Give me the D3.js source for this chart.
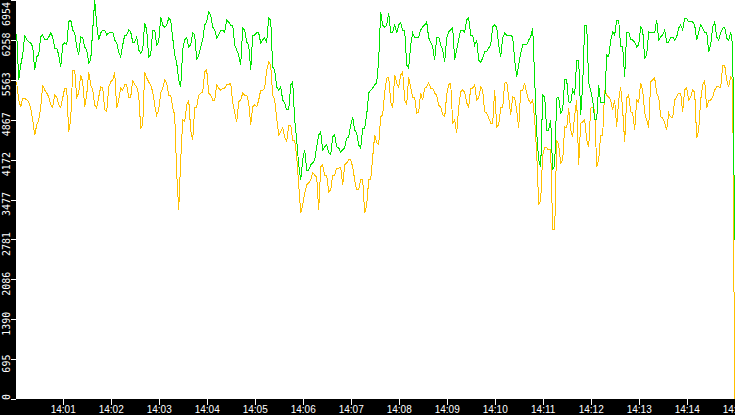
<!DOCTYPE html>
<html>
<head>
<meta charset="utf-8">
<script src="https://cdn.jsdelivr.net/npm/d3@7"></script>
<style>
  html, body { margin: 0; padding: 0; background: #000; }
  svg { display: block; }
</style>
</head>
<body>
<div id="chart"></div>
<script>
// ── Data ─────────────────────────────────────────────────────────────────
// Samples on the 5 s grid from 14:00:00, plus the readings halfway between
// them (…:02.5, …:07.5). The last grid sample (14:15:00) has no half step.
const startTime = new Date(2024, 0, 1, 14, 0, 0);
const stepSeconds = 5;

const green = [
  6379, 5560, 5995, 6257, 6205, 5734, 5995, 6344, 6257, 6379,
  6117, 5995, 6170, 6170, 6605, 6379, 5995, 6292, 6083, 5908,
  6954, 6257, 6431, 6344, 6396, 6257, 6048, 6170, 6344, 6396,
  6222, 6083, 6083, 6431, 5995, 6431, 6222, 6518, 6518, 6605,
  5995, 5560, 6083, 6292, 6170, 6344, 5995, 6257, 6571, 6693,
  6431, 6344, 6431, 6605, 6518, 6170, 5995, 6466, 6222, 5734,
  6344, 6379, 6257, 6222, 6605, 5734, 5385, 5211, 5037, 5473,
  4863, 4078, 4166, 3991, 4078, 4166, 4601, 4340, 4427, 4253,
  4601, 4375, 4340, 4549, 4775, 4688, 4427, 4723, 4950, 5385,
  5473, 5908, 6518, 6518, 6396, 6518, 6518, 6431, 5821, 6170,
  6309, 6309, 6483, 6571, 6222, 5908, 6309, 6083, 6292, 6431,
  5908, 6257, 6431, 6605, 6344, 6170, 5908, 5943, 6048, 6170,
  6518, 6170, 6292, 6344, 6344, 5908, 5821, 6170, 6170, 6309,
  5560, 4166, 5298, 4688, 4863, 4078, 5263, 5037, 5560, 5159,
  5298, 5908, 5473, 6518, 5385, 4863, 5473, 5159, 5995, 6257,
  6344, 6605, 6135, 6396, 6257, 6222, 6170, 6431, 5995, 6379,
  6379, 6257, 6344, 6222, 6292, 6257, 6466, 6431, 6640, 6571,
  6518, 6396, 6466, 6396, 6170, 6571, 6257, 6466, 6292, 6396,
  2771,
];

const greenMid = [
  6344, 5821, 6344, 6222, 6135, 5961, 6309, 6257, 6309, 6309,
  6117, 5786, 6205, 6571, 6431, 6135, 6309, 6135, 5856, 6431,
  6518, 6379, 6431, 6379, 6396, 6205, 5961, 6344, 6431, 6222,
  6309, 6030, 6553, 5961, 6431, 6170, 6658, 6483, 6640, 6292,
  5856, 5438, 6257, 6135, 6379, 5908, 6135, 6518, 6745, 6483,
  6292, 6431, 6396, 6571, 6518, 6083, 5821, 6431, 6170, 6344,
  6379, 6205, 6292, 6640, 5786, 5438, 5438, 5159, 5037, 5525,
  4514, 3817, 4340, 3991, 4113, 4392, 4654, 4392, 4288, 4566,
  4392, 4305, 4375, 4566, 4915, 4636, 4375, 4723, 5333, 5420,
  5507, 6745, 6483, 6727, 6396, 6379, 6553, 6431, 5769, 6379,
  6309, 6431, 6518, 6292, 6135, 6309, 6170, 5873, 6396, 6466,
  6083, 6431, 6396, 6640, 6344, 6257, 5873, 6048, 6117, 6483,
  6483, 5961, 6379, 6344, 6309, 5612, 6030, 6170, 6257, 6466,
  4636, 4044, 5263, 4688, 3991, 5246, 4985, 5560, 5176, 5385,
  5908, 4950, 6518, 5507, 5211, 4863, 5159, 5176, 5961, 6396,
  6605, 6135, 5612, 6396, 6257, 6135, 6483, 5943, 6396, 6379,
  6605, 6309, 6431, 6222, 6309, 6309, 6518, 6640, 6571, 6571,
  6257, 6518, 6396, 6048, 6483, 6309, 6379, 6483, 6257, 6170,
];

const yellow = [
  5560, 5211, 5246, 5211, 5072, 4601, 4863, 5473, 5333, 5124,
  5298, 5124, 5246, 5420, 4863, 5734, 5333, 5525, 5298, 5473,
  5124, 5263, 5420, 5002, 5525, 5699, 5211, 5385, 5473, 5263,
  5473, 5298, 4775, 5595, 5473, 5124, 5037, 5420, 5507, 5298,
  4950, 3294, 4863, 5124, 4688, 5089, 5298, 5351, 5734, 5298,
  5211, 5420, 5420, 5473, 5507, 5002, 5176, 5333, 5298, 4775,
  5124, 5211, 5385, 5734, 5821, 5211, 4601, 4723, 4479, 4775,
  4514, 3730, 3381, 3730, 3817, 3904, 3294, 4078, 3904, 3643,
  3904, 4026, 3730, 4113, 4166, 3817, 3643, 3817, 3381, 3817,
  4601, 4427, 4950, 5595, 5176, 5647, 5438, 5699, 5124, 5420,
  5263, 5002, 5211, 5438, 5420, 5333, 5124, 4950, 5298, 5507,
  4863, 5089, 5385, 5159, 5420, 5473, 5246, 5385, 4985, 4810,
  5385, 4775, 5072, 5525, 4950, 5246, 4723, 5385, 5333, 5159,
  4863, 3381, 4253, 4375, 4340, 2946, 4427, 4166, 4723, 4688,
  4950, 4078, 4828, 4514, 5072, 5037, 4166, 4601, 5298, 5211,
  5211, 5211, 5037, 5246, 5002, 4688, 5176, 5385, 4863, 5525,
  5595, 5263, 4897, 4688, 4915, 5211, 5333, 5002, 5420, 5263,
  5351, 4688, 5473, 5072, 5211, 5385, 5438, 5821, 5560, 5612,
  0,
];

const yellowMid = [
  5507, 5089, 5246, 5176, 4863, 4775, 5089, 5385, 5263, 5089,
  5263, 5089, 5420, 4654, 5734, 5263, 5647, 5089, 5699, 5385,
  5072, 5438, 5037, 5438, 5560, 5072, 5420, 5473, 5263, 5560,
  5438, 4723, 5699, 5525, 5351, 4950, 5333, 5560, 5298, 5072,
  3939, 4166, 4828, 5211, 4514, 5089, 5333, 5699, 5333, 5211,
  5473, 5385, 5420, 5473, 5159, 4828, 5211, 5298, 5159, 5089,
  5089, 5385, 5420, 5873, 5298, 4897, 4654, 4566, 4775, 4514,
  4218, 3242, 3590, 3765, 3939, 3869, 4044, 3904, 3608, 3904,
  4026, 4044, 4078, 4166, 4044, 3643, 3817, 3242, 3817, 4218,
  4462, 4915, 5351, 5612, 5072, 5507, 5647, 5211, 5612, 5263,
  4985, 5333, 5420, 5507, 5420, 5298, 5089, 4915, 5473, 4810,
  4636, 5351, 5351, 5089, 5420, 5211, 5438, 5002, 4897, 4810,
  4741, 5072, 5507, 5263, 5263, 5037, 5385, 5507, 5211, 5211,
  4288, 3468, 4375, 4340, 2946, 4514, 4113, 4741, 5072, 4566,
  5211, 4810, 4863, 4392, 5089, 4044, 4601, 5385, 5263, 5037,
  4741, 5438, 4479, 5298, 4985, 5211, 5507, 4985, 4723, 5560,
  5333, 4915, 4810, 4985, 4897, 5263, 5333, 5385, 5211, 5385,
  4549, 5211, 5560, 5211, 5263, 5438, 5420, 5821, 5438, 5560,
];

const seriesColors = {yellow: "#ffc000", green: "#00e400"};

// ── Layout ───────────────────────────────────────────────────────────────
const W = 735;
const H = 415;
const plot = {left: 16, right: 735, top: 0, bottom: 399};

const rows = [];
green.forEach((g, i) => {
  rows.push({t: new Date(+startTime + i * stepSeconds * 1000), green: g, yellow: yellow[i]});
  if (i < greenMid.length) {
    rows.push({t: new Date(+startTime + (i + 0.5) * stepSeconds * 1000), green: greenMid[i], yellow: yellowMid[i]});
  }
});

const yMax = d3.max(rows, (d) => Math.max(d.green, d.yellow));
const yTicks = d3.range(11).map((k) => (yMax * k) / 10);

const x = d3.scaleTime()
  .domain([new Date(+startTime + 1600), new Date(+startTime + 900400)])
  .range([plot.left, plot.right]);

const y = d3.scaleLinear()
  .domain([0, yMax])
  .range([plot.bottom, plot.top]);

const svg = d3.select("#chart").append("svg")
  .attr("width", W)
  .attr("height", H)
  .style("font-family", "'DejaVu Sans Mono', monospace")
  .style("font-size", "10px");

svg.append("rect").attr("width", W).attr("height", H).attr("fill", "#000");
svg.append("rect")
  .attr("x", plot.left).attr("y", plot.top)
  .attr("width", plot.right - plot.left).attr("height", plot.bottom - plot.top)
  .attr("fill", "#fff");

svg.append("clipPath").attr("id", "plot-clip")
  .append("rect")
  .attr("x", plot.left).attr("y", plot.top)
  .attr("width", plot.right - plot.left).attr("height", plot.bottom - plot.top);

// ── Lines (yellow under green) ───────────────────────────────────────────
const lines = svg.append("g").attr("clip-path", "url(#plot-clip)");
for (const key of ["yellow", "green"]) {
  const line = d3.line().x((d) => x(d.t)).y((d) => y(d[key]));
  lines.append("path")
    .datum(rows)
    .attr("d", line)
    .attr("fill", "none")
    .attr("stroke", seriesColors[key])
    .attr("stroke-width", 1)
    .attr("shape-rendering", "crispEdges");
}

// ── Axes ─────────────────────────────────────────────────────────────────
const xAxis = svg.append("g")
  .attr("transform", `translate(0,${plot.bottom})`)
  .call(d3.axisBottom(x)
    .ticks(d3.timeMinute.every(1))
    .tickFormat(d3.timeFormat("%H:%M"))
    .tickSize(6)
    .tickPadding(1));
xAxis.select(".domain").remove();
xAxis.selectAll("line").attr("stroke", "#fff").attr("shape-rendering", "crispEdges");
xAxis.selectAll("text").attr("fill", "#fff");

const yAxis = svg.append("g")
  .attr("transform", `translate(${plot.left},0)`)
  .call(d3.axisLeft(y).tickValues(yTicks).tickSize(5).tickFormat(""));
yAxis.select(".domain").remove();
yAxis.selectAll("line").attr("stroke", "#fff").attr("shape-rendering", "crispEdges");
yAxis.selectAll("text").remove();
svg.selectAll(".tick text").attr("font-family", null).attr("font-size", null);

// rotated labels, nudged below the tick and kept inside the strip
const yLabels = svg.append("g").attr("fill", "#fff");
for (const v of yTicks) {
  const label = yLabels.append("text")
    .attr("text-anchor", "middle")
    .text(String(Math.floor(v + 1e-9)));
  const w = label.node().getComputedTextLength();
  let cy = y(v) + 4.5;
  if (cy + w / 2 > 400) cy = 400 - w / 2;
  if (cy - w / 2 < 2) cy = 2 + w / 2;
  label.attr("transform", `translate(9.5,${cy}) rotate(-90)`);
}
</script>
</body>
</html>
